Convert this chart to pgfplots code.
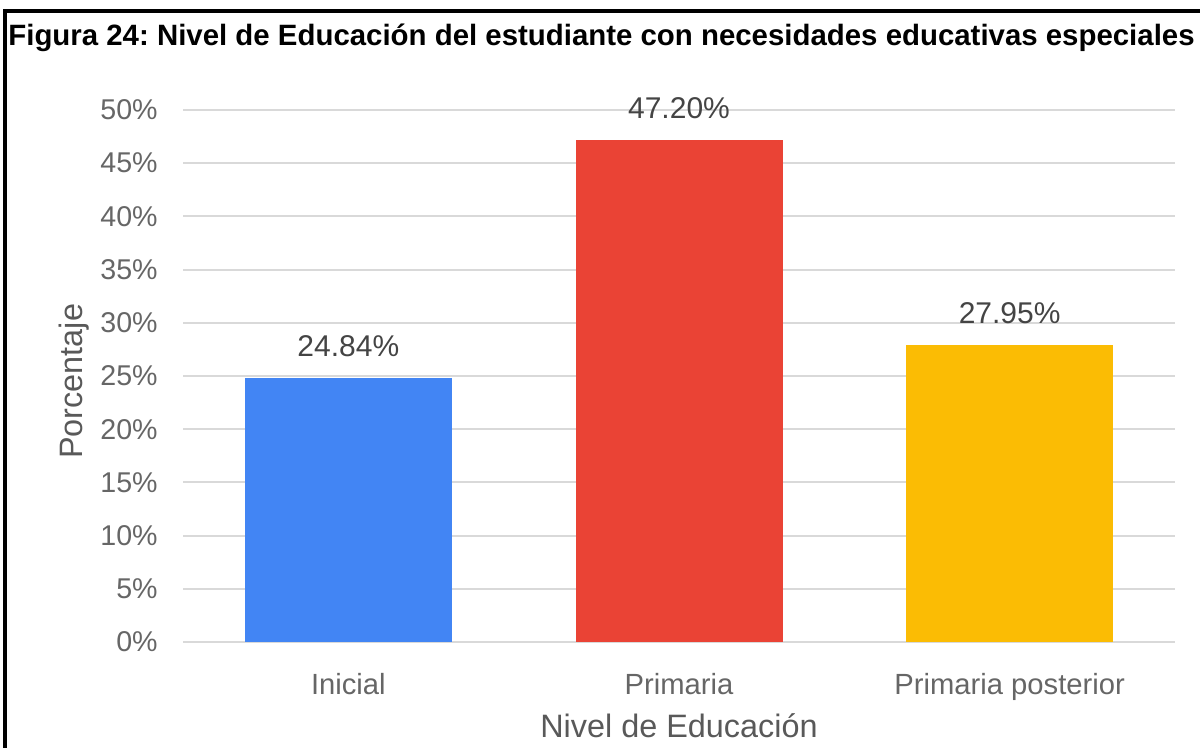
\documentclass[border=0pt]{standalone}
\usepackage{pgfplots}
\pgfplotsset{compat=1.18}
\usepackage{fontspec}
\setmainfont{Liberation Sans}
\frenchspacing
\definecolor{gblue}{HTML}{4285F4}
\definecolor{gred}{HTML}{EA4335}
\definecolor{gyellow}{HTML}{FBBC04}
\definecolor{gridc}{HTML}{D9D9D9}
\definecolor{tickc}{HTML}{666666}
\definecolor{labc}{HTML}{595959}
\definecolor{datac}{HTML}{444444}
\begin{document}
\begin{tikzpicture}
\path[use as bounding box] (0pt,0pt) rectangle (600pt,-374pt);
\draw[line width=2pt] (2.5pt,-380pt) -- (2.5pt,-5.5pt) -- (610pt,-5.5pt);
\node[anchor=base west, inner sep=0pt, font=\bfseries\fontsize{14.7}{17}\selectfont] at (4pt,-23pt)
  {Figura 24: Nivel de Educación del estudiante con necesidades educativas especiales};
\begin{axis}[
  at={(91.5pt,-321pt)}, anchor=south west,
  scale only axis, width=496pt, height=266pt,
  xmin=-0.5, xmax=2.5, ymin=0, ymax=50,
  ybar, bar width=0.626,
  axis line style={draw=none},
  tick style={draw=none},
  ymajorgrids, grid style={color=gridc, line width=1pt},
  /pgf/number format/assume math mode=true,
  ytick={0,5,...,50},
  yticklabel={\pgfmathprintnumber{\tick}\%},
  yticklabel style={anchor=east, inner sep=0pt, xshift=-12.5pt, font=\fontsize{14.3}{16}\selectfont, color=tickc},
  xtick={0,1,2},
  xticklabels={Inicial, Primaria, Primaria posterior},
  xticklabel style={anchor=base, inner sep=0pt, yshift=-22pt, font=\fontsize{14.6}{16}\selectfont, color=tickc},
  xlabel={Nivel de Educación},
  xlabel style={at={(axis description cs:0.5,-0.1786)}, anchor=base, inner sep=0pt, font=\fontsize{16.2}{18}\selectfont, color=labc},
  ylabel={Porcentaje},
  ylabel style={at={(axis description cs:-0.1018,0.49)}, rotate=0, anchor=base, inner sep=0pt, font=\fontsize{16.2}{18}\selectfont, color=labc},
  nodes near coords={\pgfmathprintnumber[fixed,fixed zerofill,precision=2]{\pgfplotspointmeta}\%},
  nodes near coords style={anchor=base, inner sep=0pt, yshift=10.5pt, font=\fontsize{15}{17}\selectfont, color=datac},
]
\addplot[fill=gblue, draw=none, bar shift=0] coordinates {(0,24.84)};
\addplot[fill=gred, draw=none, bar shift=0] coordinates {(1,47.20)};
\addplot[fill=gyellow, draw=none, bar shift=0] coordinates {(2,27.95)};
\end{axis}
\end{tikzpicture}
\end{document}
